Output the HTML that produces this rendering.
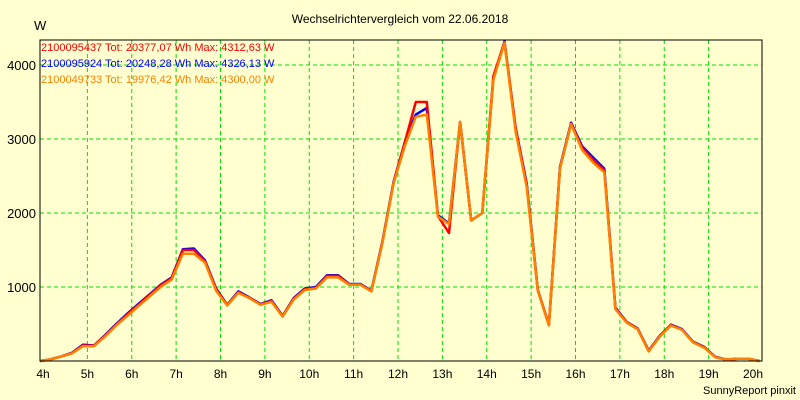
<!DOCTYPE html>
<html><head><meta charset="utf-8"><style>
body{margin:0;background:#ffffd0;}
svg{display:block;font-family:"Liberation Sans",sans-serif;}
</style></head><body>
<svg id="chart" width="800" height="400">
<rect x="0" y="0" width="800" height="400" fill="#ffffd0"/>
<text x="400" y="23" font-size="12" text-anchor="middle">Wechselrichtervergleich vom 22.06.2018</text>
<text x="34" y="30" font-size="13">W</text>
<g id="grid"></g>
<g id="series"></g>
<g id="axes"></g>
<text x="41" y="51" font-size="11" fill="#ff0000">2100095437 Tot: 20377,07 Wh Max: 4312,63 W</text>
<text x="41" y="67" font-size="11" fill="#0000ff">2100095924 Tot: 20248,28 Wh Max: 4326,13 W</text>
<text x="41" y="83" font-size="11" fill="#ff8000">2100049733 Tot: 19976,42 Wh Max: 4300,00 W</text>
<text x="796" y="394" font-size="11" text-anchor="end">SunnyReport pinxit</text>
</svg>
<script>
const hourTicks=[4,5,6,7,8,9,10,11,12,13,14,15,16,17,18,19,20];
const yTicks=[1000,2000,3000,4000];
const times=[3.9,4.15,4.4,4.65,4.9,5.15,5.4,5.65,5.9,6.15,6.4,6.65,6.9,7.15,7.4,7.65,7.9,8.15,8.4,8.65,8.9,9.15,9.4,9.65,9.9,10.15,10.4,10.65,10.9,11.15,11.4,11.65,11.9,12.15,12.4,12.65,12.9,13.15,13.4,13.65,13.9,14.15,14.4,14.65,14.9,15.15,15.4,15.65,15.9,16.15,16.4,16.65,16.9,17.15,17.4,17.65,17.9,18.15,18.4,18.65,18.9,19.15,19.4,19.65,19.9,20.15];
const orangeVals=[0,20,60,100,200,200,330,480,610,740,870,1000,1100,1450,1450,1330,950,750,920,850,760,800,600,830,960,980,1130,1130,1030,1030,940,1600,2400,2900,3300,3330,1950,1850,3230,1900,2000,3800,4300,3100,2350,950,480,2600,3200,2850,2680,2550,700,520,430,130,330,480,420,250,180,50,20,30,30,0];
const blueVals=[0,20,60,110,220,210,350,500,640,770,900,1030,1130,1510,1520,1360,980,760,940,860,770,820,610,850,980,1000,1160,1160,1040,1040,950,1620,2420,2950,3330,3420,1970,1860,3230,1900,2000,3820,4320,3150,2400,960,490,2620,3220,2900,2750,2600,720,530,440,140,340,490,430,260,190,55,20,30,30,0];
const redVals=[0,20,60,105,210,205,340,490,630,760,890,1020,1120,1500,1500,1350,970,755,930,855,765,810,605,840,970,990,1150,1150,1035,1035,945,1610,2410,2950,3500,3500,1960,1730,3230,1900,2000,3850,4310,3150,2380,955,485,2610,3210,2880,2720,2580,710,525,435,135,335,485,425,255,185,52,20,30,30,0];
const L=40,R=762,T=40,B=361;
const xs=t=>43+(t-4)*44.375;
const ys=v=>B-v*0.074;
const NS="http://www.w3.org/2000/svg";
const grid=document.getElementById('grid'),axes=document.getElementById('axes'),ser=document.getElementById('series');
function mk(tag,attrs,parent){const e=document.createElementNS(NS,tag);for(const k in attrs)e.setAttribute(k,attrs[k]);parent.appendChild(e);return e;}
hourTicks.forEach(h=>{
 if(h>4&&h<20){const g=mk('line',{x1:xs(h),x2:xs(h),y1:T,y2:B,stroke:'#00e000','stroke-dasharray':'4,3'},grid);
 
 }
 const t=mk('text',{x:xs(h),y:378,'font-size':12,'text-anchor':'middle'},axes);t.textContent=h+'h';
 
 
});
yTicks.forEach(v=>{
 const g=mk('line',{x1:L,x2:R,y1:ys(v),y2:ys(v),stroke:'#00e000','stroke-dasharray':'4,3'},grid);
 
 
 const t=mk('text',{x:36,y:ys(v)+5,'font-size':13,'text-anchor':'end'},axes);t.textContent=v;
 
 
});
const frame=mk('rect',{x:L,y:T,width:R-L,height:B-T,fill:'none',stroke:'#000','stroke-width':1},axes);


[[blueVals,'#0000ff','series-blue'],[redVals,'#ff0000','series-red'],[orangeVals,'#ff8000','series-orange']].forEach(([vals,c,n])=>{
 const pts=times.map((t,i)=>Math.max(L,Math.min(R,xs(t))).toFixed(1)+','+ys(vals[i]).toFixed(1)).join(' ');
 const p=mk('polyline',{points:pts,fill:'none',stroke:c,'stroke-width':2.5,'stroke-linejoin':'round'},ser);
 
 
});
</script>
</body></html>
